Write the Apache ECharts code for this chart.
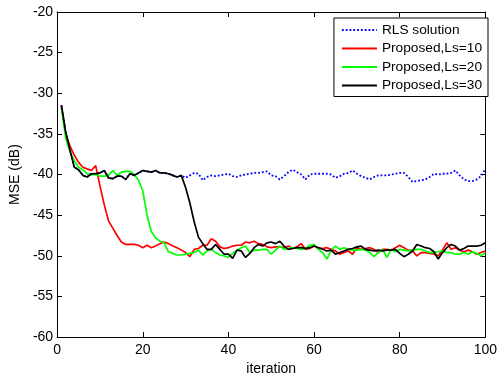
<!DOCTYPE html>
<html>
<head>
<meta charset="utf-8">
<script src="https://cdn.jsdelivr.net/npm/echarts@6/dist/echarts.min.js"></script>
<style>
html,body{margin:0;padding:0;background:#fff;}
#chart{width:500px;height:381px;}
</style>
</head>
<body>
<div id="chart"></div>
<script>
var seriesNames = ['RLS solution', 'Proposed,Ls=10', 'Proposed,Ls=20', 'Proposed,Ls=30'];
var xTicks = [0, 20, 40, 60, 80, 100];
var yTicks = [-60, -55, -50, -45, -40, -35, -30, -25, -20];

var rls = [
-31.5,-34.8,-37.0,-39.1,-39.4,-40.1,-40.3,-39.9,-39.9,-39.8,
-39.5,-40.4,-40.5,-40.2,-40.2,-40.6,-39.9,-40.1,-39.8,-39.5,
-39.6,-39.7,-39.5,-39.8,-39.8,-39.9,-40.1,-40.3,-40.1,-40.4,
-40.1,-39.8,-39.9,-40.7,-40.3,-40.1,-40.2,-40.1,-40.0,-39.9,
-40.2,-40.3,-40.1,-40.0,-39.9,-39.8,-39.8,-39.7,-39.6,-40.1,
-40.2,-40.6,-40.2,-39.7,-39.4,-39.7,-40.0,-40.6,-40.0,-39.9,
-39.9,-39.9,-39.9,-40.0,-40.4,-40.2,-39.9,-39.8,-39.5,-39.9,
-40.2,-40.4,-40.6,-40.3,-40.1,-40.1,-40.1,-40.0,-39.9,-39.8,
-39.8,-40.3,-40.9,-40.8,-40.7,-40.6,-40.3,-39.9,-40.0,-39.9,
-39.9,-39.8,-39.5,-40.1,-40.6,-40.8,-40.8,-40.6,-40.2,-39.3];

var ls10 = [
-31.5,-35.0,-36.5,-37.6,-38.5,-39.1,-39.3,-39.5,-38.9,-41.4,
-43.7,-45.7,-46.6,-47.5,-48.3,-48.6,-48.6,-48.6,-48.7,-49.0,
-48.7,-49.0,-48.8,-48.5,-48.3,-48.5,-48.8,-49.0,-49.3,-49.6,
-50.1,-49.2,-49.1,-48.7,-48.7,-47.9,-48.2,-48.9,-49.1,-49.0,
-48.8,-48.7,-48.7,-48.3,-48.4,-48.2,-48.5,-48.6,-48.9,-49.0,
-48.9,-48.9,-49.0,-48.8,-49.1,-48.9,-48.5,-49.2,-49.1,-48.8,
-49.0,-49.1,-49.0,-49.2,-49.4,-49.8,-49.6,-49.4,-49.8,-49.0,
-49.2,-49.1,-49.0,-49.2,-49.6,-49.2,-49.2,-49.3,-49.0,-48.7,
-49.0,-49.3,-49.4,-50.0,-49.6,-49.6,-49.7,-49.8,-50.0,-49.3,
-48.4,-49.2,-49.0,-49.3,-49.5,-49.3,-49.5,-49.8,-49.6,-49.4];

var ls20 = [
-31.8,-35.5,-37.2,-38.3,-39.1,-39.4,-39.9,-40.0,-40.0,-40.2,
-40.2,-40.1,-39.5,-40.1,-39.7,-39.6,-39.6,-40.0,-40.7,-42.0,
-45.0,-47.0,-47.8,-48.2,-48.4,-49.5,-49.7,-49.9,-49.9,-49.8,
-49.7,-49.6,-49.3,-49.9,-49.4,-49.2,-49.6,-49.9,-50.0,-50.2,
-49.7,-49.3,-49.0,-48.8,-49.6,-49.3,-49.3,-49.2,-49.2,-49.8,
-49.3,-48.8,-49.2,-49.1,-49.0,-49.1,-49.2,-49.1,-48.7,-48.6,
-49.2,-49.6,-50.4,-49.3,-48.8,-49.2,-49.0,-49.2,-49.3,-49.3,
-49.2,-49.3,-49.6,-50.1,-49.6,-49.2,-50.2,-49.2,-49.5,-49.2,
-49.3,-49.4,-49.3,-49.2,-49.2,-49.4,-49.6,-49.6,-49.5,-49.4,
-49.6,-49.6,-49.8,-49.8,-49.6,-49.8,-49.5,-49.7,-50.0,-49.6];

var ls30 = [
-31.5,-34.8,-37.0,-39.1,-39.4,-40.1,-40.3,-39.9,-39.9,-39.8,
-39.5,-40.4,-40.5,-40.2,-40.2,-40.6,-39.9,-40.1,-39.8,-39.5,
-39.6,-39.7,-39.5,-39.8,-39.8,-39.9,-40.1,-40.3,-40.1,-41.6,
-43.5,-45.8,-47.7,-48.5,-49.2,-49.2,-48.6,-49.2,-49.8,-49.8,
-50.3,-49.3,-49.4,-50.2,-49.7,-49.0,-48.6,-48.8,-48.4,-48.3,
-48.5,-48.2,-48.8,-49.2,-49.1,-49.0,-49.0,-49.1,-49.0,-48.8,
-49.0,-49.2,-49.4,-49.3,-49.8,-49.6,-49.4,-49.2,-49.1,-48.9,
-48.8,-49.2,-49.3,-49.4,-49.3,-49.4,-49.3,-49.3,-49.2,-49.7,
-50.1,-49.8,-49.4,-48.6,-48.8,-49.0,-49.1,-49.5,-50.4,-49.6,
-49.0,-48.6,-48.8,-49.3,-49.1,-48.8,-48.8,-48.8,-48.7,-48.4];

var iterations = [];
for (var i = 1; i <= rls.length; i++) iterations.push(i);

function pairs(vals) {
  return vals.map(function (v, k) { return [iterations[k], v]; });
}

var FONT = "'Liberation Sans', Arial, Helvetica, sans-serif";
var chart = echarts.init(document.getElementById('chart'), null, {renderer: 'canvas'});

function axisCommon(showLabel) {
  return {
    axisLine: {show: true, onZero: false, lineStyle: {color: '#000', width: 1}},
    axisTick: {show: true, inside: true, length: 5, lineStyle: {color: '#000', width: 1}},
    axisLabel: {show: showLabel, color: '#000', fontSize: 14, fontFamily: FONT},
    splitLine: {show: false}
  };
}

var xMain = Object.assign(axisCommon(true), {
  type: 'value', position: 'bottom', min: xTicks[0], max: xTicks[xTicks.length - 1],
  interval: xTicks[1] - xTicks[0],
  name: 'iteration', nameLocation: 'middle', nameGap: 21,
  nameTextStyle: {color: '#000', fontSize: 14, fontFamily: FONT}
});
xMain.axisLabel.margin = 6;
var xTop = Object.assign(axisCommon(false), {
  type: 'value', position: 'top', min: xTicks[0], max: xTicks[xTicks.length - 1],
  interval: xTicks[1] - xTicks[0]
});
var yMain = Object.assign(axisCommon(true), {
  type: 'value', position: 'left', min: yTicks[0], max: yTicks[yTicks.length - 1],
  interval: yTicks[1] - yTicks[0],
  name: 'MSE (dB)', nameLocation: 'middle', nameGap: 27,
  nameTextStyle: {color: '#000', fontSize: 14, fontFamily: FONT}
});
yMain.axisLabel.margin = 4;
var yRight = Object.assign(axisCommon(false), {
  type: 'value', position: 'right', min: yTicks[0], max: yTicks[yTicks.length - 1],
  interval: yTicks[1] - yTicks[0]
});

var colors = ['#0000ff', '#ff0000', '#00ff00', '#000000'];
var datas = [rls, ls10, ls20, ls30];

var series = datas.map(function (d, k) {
  return {
    name: seriesNames[k],
    type: 'line',
    xAxisIndex: 0,
    yAxisIndex: 0,
    data: pairs(d),
    symbol: 'none',
    smooth: false,
    lineStyle: {
      color: colors[k],
      width: k === 0 ? 1.8 : 1.7,
      type: k === 0 ? [1.8, 2] : 'solid'
    },
    itemStyle: {color: colors[k]}
  };
});

chart.setOption({
  animation: false,
  backgroundColor: '#fff',
  grid: {left: 53, right: 10, top: 12, bottom: 41, containLabel: false},
  xAxis: [xMain, xTop],
  yAxis: [yMain, yRight],
  legend: {
    orient: 'vertical',
    right: 12,
    top: 18,
    padding: [5, 6, 4, 7],
    itemWidth: 35,
    itemHeight: 14,
    itemGap: 4.5,
    backgroundColor: '#fff',
    borderColor: '#000',
    borderWidth: 1,
    itemStyle: {opacity: 0},
    textStyle: {color: '#000', fontSize: 13.7, fontFamily: FONT},
    data: seriesNames
  },
  series: series
});
</script>
</body>
</html>
